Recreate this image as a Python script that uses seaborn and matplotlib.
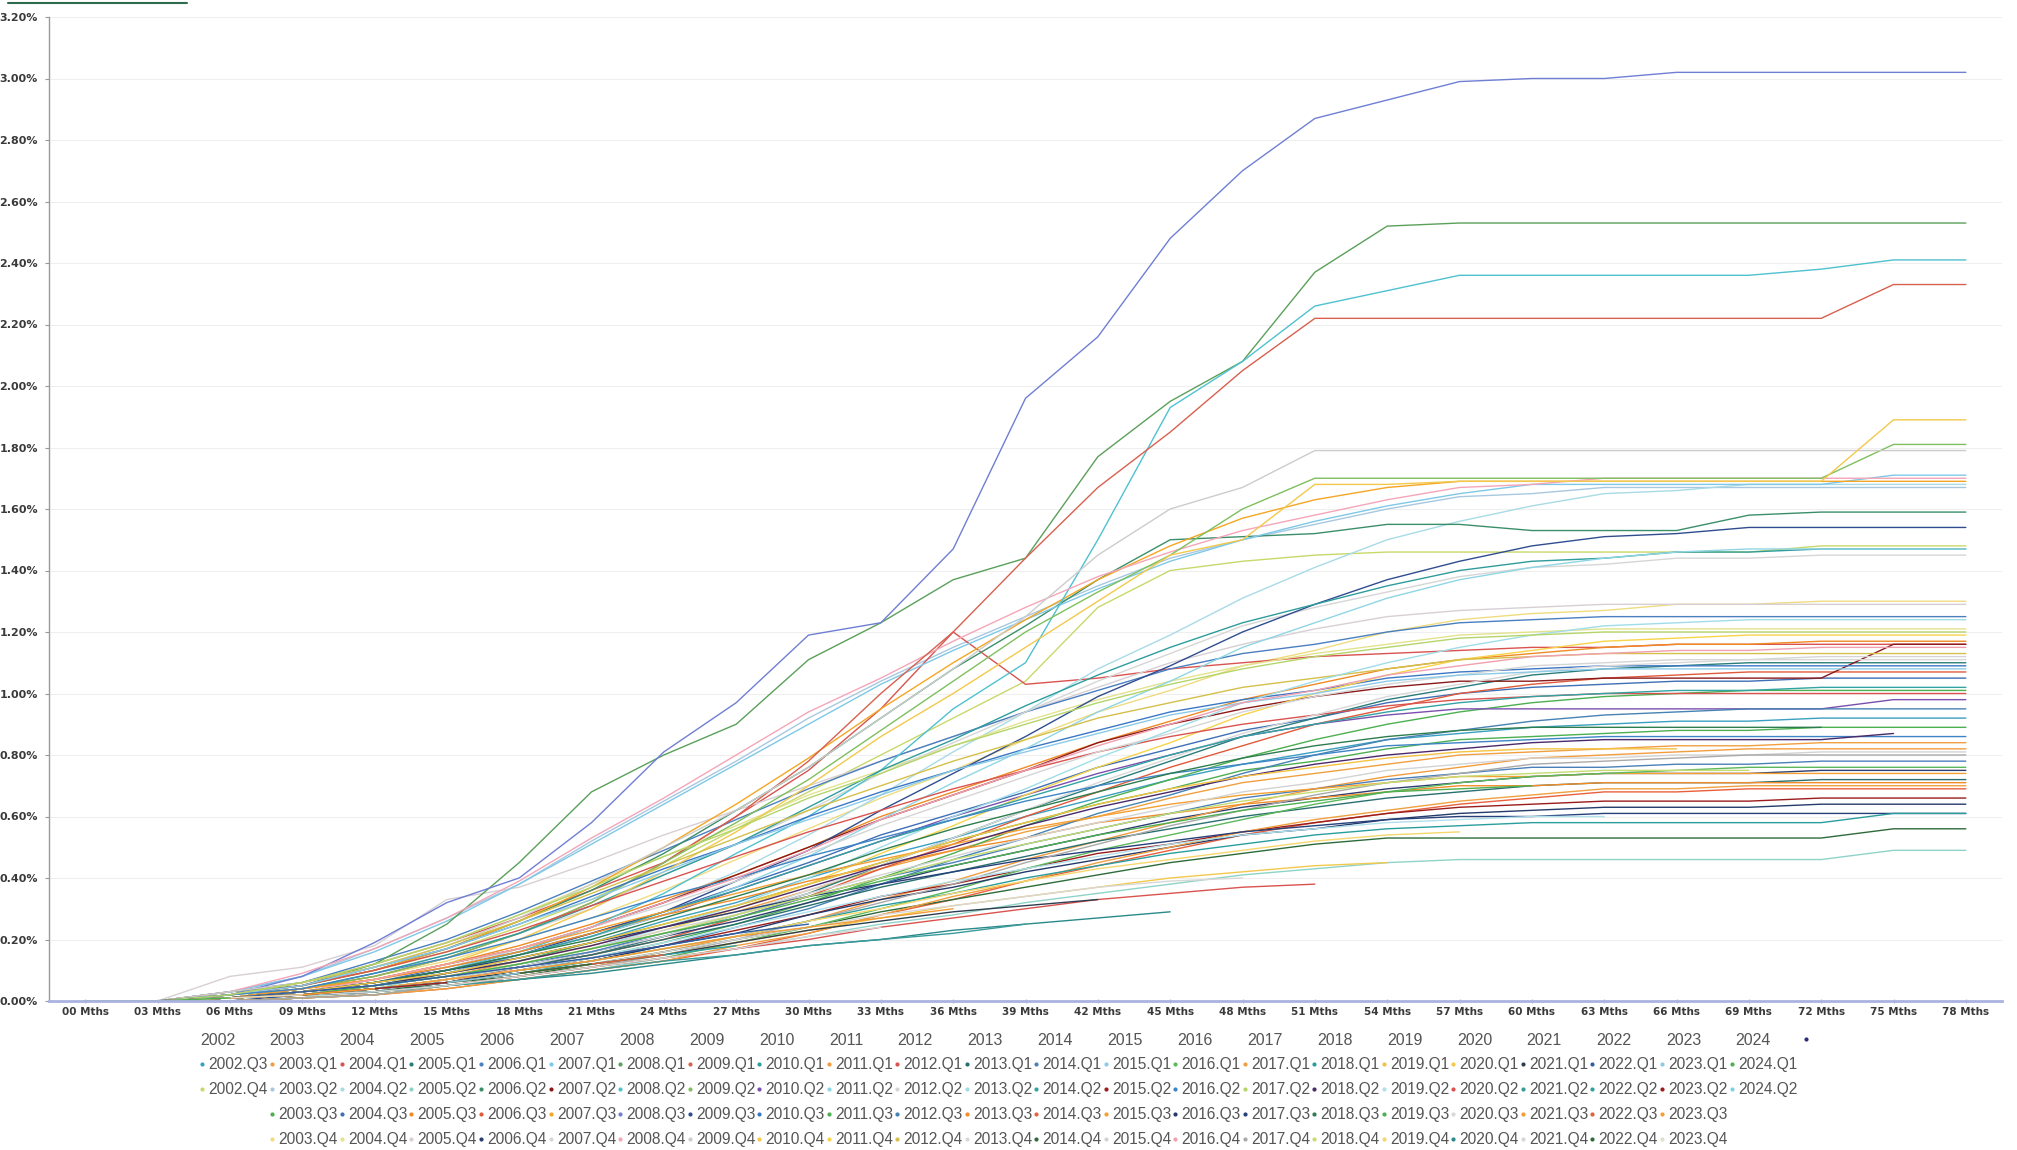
import matplotlib
matplotlib.use("Agg")
import matplotlib.pyplot as plt
from matplotlib.lines import Line2D
from matplotlib.ticker import FuncFormatter, FixedLocator
from matplotlib.font_manager import FontProperties
import seaborn as sns
import pandas as pd

# ---------------- data -----------------
MONTH_LABELS = ["00 Mths", "03 Mths", "06 Mths", "09 Mths", "12 Mths", "15 Mths", "18 Mths",
                "21 Mths", "24 Mths", "27 Mths", "30 Mths", "33 Mths", "36 Mths", "39 Mths",
                "42 Mths", "45 Mths", "48 Mths", "51 Mths", "54 Mths", "57 Mths", "60 Mths",
                "63 Mths", "66 Mths", "69 Mths", "72 Mths", "75 Mths", "78 Mths"]
Y_TICKS = [0.0, 0.2, 0.4, 0.6, 0.8, 1.0, 1.2, 1.4, 1.6, 1.8, 2.0, 2.2, 2.4, 2.6, 2.8, 3.0, 3.2]

# cumulative rate per vintage, in hundredths of a percent, one point per 3 months of age
y2002 = {
    "Q3": [0,0,1,3,6,9,14,19,26,32,40,47,53,60,66,72,77,81,85,87,89,90,91,91,92,92,92],
    "Q4": [0,0,2,5,10,16,24,33,44,56,68,80,92,104,128,140,143,145,146,146,146,146,146,146,148,148,148],
}
y2003 = {
    "Q1": [0,0,1,3,5,8,13,18,24,29,36,43,49,55,60,66,71,74,77,80,81,82,83,83,84,84,84],
    "Q2": [0,0,3,8,17,27,38,52,65,78,92,104,115,125,135,144,150,155,160,164,165,167,167,167,167,167,167],
    "Q3": [0,0,0,1,3,6,10,14,19,25,32,40,48,57,65,72,79,85,90,94,97,99,100,101,101,101,101],
    "Q4": [0,0,1,4,8,13,20,27,36,46,56,66,75,85,94,101,109,114,120,124,126,127,129,129,130,130,130],
}
y2004 = {
    "Q1": [0,0,2,6,12,19,27,36,45,60,75,95,120,103,105,108,110,112,113,114,115,115,116,116,116,116,116],
    "Q2": [0,0,0,2,5,10,17,24,32,42,54,67,81,94,108,119,131,141,150,156,161,165,166,168,168,168,168],
    "Q3": [0,0,1,3,6,11,16,22,29,37,45,54,61,68,76,82,88,92,97,100,102,103,104,104,105,105,105],
    "Q4": [0,0,2,6,12,19,28,38,47,57,67,75,83,91,98,104,109,113,116,119,120,121,121,121,121,121,121],
}
y2005 = {
    "Q1": [0,0,0,1,3,7,11,15,21,28,35,44,53,62,70,78,86,92,98,102,106,108,109,110,110,110,110],
    "Q2": [0,0,0,1,3,5,7,10,14,17,21,25,28,32,35,38,41,43,45,46,46,46,46,46,46,49,49],
    "Q3": [0,0,1,4,7,12,18,25,33,41,50,60,68,76,84,91,98,103,108,111,113,115,116,116,117,117,117],
    "Q4": [0,0,8,11,18,33,37,45,54,62,70,78,86,94,102,110,116,121,125,127,128,129,129,129,129,129,129],
}
y2006 = {
    "Q1": [0,0,3,6,13,20,29,39,49,59,69,78,86,94,101,108,113,116,120,123,124,125,125,125,125,125,125],
    "Q2": [0,0,2,5,10,17,26,36,48,62,76,92,108,122,137,150,151,152,155,155,153,153,153,158,159,159,159],
    "Q3": [0,0,0,1,3,6,11,15,20,27,34,43,51,60,68,76,83,90,95,100,103,105,106,107,107,107,107],
    "Q4": [0,0,1,2,5,8,11,16,21,26,32,38,44,49,54,59,63,66,69,71,73,74,74,74,75,75,75],
}
y2007 = {
    "Q1": [0,0,3,8,16,26,38,51,64,77,90,103,114,124,134,143,150,156,161,165,168,168,168,168,168,171,171],
    "Q2": [0,0,1,3,7,12,17,24,32,41,50,59,67,75,84,90,95,99,102,104,104,105,105,105,105,116,116],
    "Q3": [0,0,2,5,10,17,26,37,50,64,79,95,110,124,137,148,157,163,167,169,169,169,169,169,169,169,169],
    "Q4": [0,0,1,4,9,15,22,30,41,51,62,74,84,94,104,113,122,128,133,138,141,142,144,144,145,145,145],
}
y2008 = {
    "Q1": [0,0,3,5,12,25,45,68,80,90,111,123,137,144,177,195,208,237,252,253,253,253,253,253,253,253,253],
    "Q2": [0,0,1,3,6,10,16,24,35,48,60,75,95,110,150,193,208,226,231,236,236,236,236,236,238,241,241],
    "Q3": [0,0,2,8,19,32,40,58,81,97,119,123,147,196,216,248,270,287,293,299,300,300,302,302,302,302,302],
    "Q4": [0,0,3,9,17,27,39,53,66,80,94,105,117,128,138,146,153,158,163,167,168,170,170,170,170,170,170],
}
y2009 = {
    "Q1": [0,0,1,4,8,14,22,32,45,60,78,100,120,144,167,185,205,222,222,222,222,222,222,222,222,233,233],
    "Q2": [0,0,2,4,8,14,22,32,45,58,72,88,104,120,133,145,160,170,170,170,170,170,170,170,170,181,181],
    "Q3": [0,0,0,2,5,9,15,22,29,39,49,62,74,86,99,109,120,129,137,143,148,151,152,154,154,154,154],
    "Q4": [0,0,3,6,11,18,27,38,50,62,76,92,108,125,145,160,167,179,179,179,179,179,179,179,179,179,179],
}
y2010 = {
    "Q1": [0,0,1,4,9,15,22,31,41,51,63,75,85,96,106,115,123,129,135,140,143,144,146,146,147,147,147],
    "Q2": [0,0,1,3,6,10,15,21,28,36,44,52,60,67,74,80,86,90,93,95,95,95,95,95,95,98,98],
    "Q3": [0,0,2,5,11,17,25,34,43,51,60,68,75,82,88,94,98,101,105,107,108,109,109,109,109,109,109],
    "Q4": [0,0,1,3,7,12,20,30,42,55,70,86,100,115,130,145,150,168,168,169,169,169,169,169,169,189,189],
}
y2011 = {
    "Q1": [0,0,0,1,2,5,8,11,16,21,26,33,39,46,52,58,64,69,73,76,79,80,81,82,82,82,82],
    "Q2": [0,0,0,1,4,9,15,21,28,37,47,59,71,82,94,104,115,123,131,137,141,144,146,147,147,147,147],
    "Q3": [0,0,1,3,5,9,13,19,25,31,38,45,52,58,64,69,75,78,82,85,86,87,88,88,89,89,89],
    "Q4": [0,0,0,1,4,7,12,17,23,30,38,48,57,67,76,84,93,100,106,111,114,117,118,119,119,119,119],
}
y2012 = {
    "Q1": [0,0,2,5,10,16,23,31,39,47,55,62,69,75,81,86,90,93,96,98,99,100,100,100,100,100,100],
    "Q2": [0,0,1,3,7,11,17,24,31,39,48,57,65,73,81,87,94,99,103,106,109,110,111,111,112,112,112],
    "Q3": [0,0,0,1,3,6,10,13,18,24,30,38,46,53,61,67,74,80,85,88,91,93,94,95,95,95,95],
    "Q4": [0,0,2,6,11,18,26,35,44,53,62,70,78,85,92,97,102,105,108,111,112,113,113,113,113,113,113],
}
y2013 = {
    "Q1": [0,0,1,2,4,7,11,15,20,25,31,37,42,47,52,56,60,63,66,68,70,71,71,71,72,72,72],
    "Q2": [0,0,0,1,4,7,12,17,24,31,40,50,60,69,79,88,97,104,110,115,119,122,123,124,124,124,124],
    "Q3": [0,0,1,4,7,11,16,22,28,33,39,44,49,53,58,61,64,66,68,70,70,71,71,71,71,71,71],
    "Q4": [0,0,0,1,3,7,11,16,21,28,36,44,53,62,71,79,87,93,99,103,107,109,110,111,111,111,111],
}
y2014 = {
    "Q1": [0,0,1,2,5,8,12,16,22,27,34,40,45,51,56,61,66,69,72,74,76,76,77,77,78,78,78],
    "Q2": [0,0,1,3,6,10,15,21,29,36,44,52,59,66,73,80,86,90,94,97,99,100,101,101,102,102,102],
    "Q3": [0,0,0,1,2,4,7,10,13,17,22,28,33,39,44,49,54,58,61,64,66,68,68,69,69,69,69],
    "Q4": [0,0,1,2,3,6,8,12,16,20,24,29,33,37,41,45,48,51,53,53,53,53,53,53,53,56,56],
}
y2015 = {
    "Q1": [0,0,2,5,11,17,25,33,42,51,59,67,75,81,87,93,97,100,104,106,107,108,108,108,108,108,108],
    "Q2": [0,0,1,2,4,7,10,14,18,23,28,34,38,43,48,51,55,58,61,63,64,65,65,65,66,66,66],
    "Q3": [0,0,1,4,7,12,17,23,29,35,41,46,51,56,60,64,67,69,71,73,73,74,74,74,74,74,74],
    "Q4": [0,0,1,2,5,8,12,17,23,28,35,41,47,53,58,63,68,71,75,77,79,79,80,80,81,81,81],
}
y2016 = {
    "Q1": [0,0,0,1,2,5,8,11,14,19,24,30,36,43,49,54,59,64,68,71,73,74,75,76,76,76,76],
    "Q2": [0,0,2,4,9,14,20,27,34,40,47,53,59,65,70,74,77,80,83,84,85,86,86,86,86,86,86],
    "Q3": [0,0,1,2,4,6,10,13,18,22,28,33,37,42,46,50,54,56,59,61,62,63,63,63,64,64,64],
    "Q4": [0,0,1,3,7,12,17,24,32,40,49,59,67,75,83,90,97,101,106,109,112,113,114,114,115,115,115],
}
y2017 = {
    "Q1": [0,0,0,1,2,4,7,10,13,18,22,28,34,39,45,50,55,59,62,65,67,69,69,70,70,70,70],
    "Q2": [0,0,2,6,12,19,28,37,47,56,66,74,83,90,97,103,108,112,115,118,119,120,120,120,120,120,120],
    "Q3": [0,0,1,3,6,10,14,19,24,29,34,38,42,46,49,52,55,57,59,60,60,61,61,61,61,61,61],
    "Q4": [0,0,0,1,2,5,8,11,15,20,26,32,38,45,51,57,62,67,71,74,77,78,79,80,80,80,80],
}
y2018 = {
    "Q1": [0,0,1,2,4,6,9,13,17,21,26,31,35,40,44,48,51,54,56,57,58,58,58,58,58,61,61],
    "Q2": [0,0,1,3,5,9,13,18,24,30,37,44,50,57,63,68,73,77,80,82,84,85,85,85,85,87],
    "Q3": [0,0,1,3,6,10,15,20,27,34,41,49,56,62,68,74,79,83,86,88,89,89,89,89,89],
    "Q4": [0,0,1,2,5,8,12,17,22,28,34,40,46,51,56,61,65,68,71,73,74,75,75,75],
}
y2019 = {
    "Q1": [0,0,1,3,6,9,14,19,25,31,38,45,52,58,64,69,73,76,79,81,82,82,82],
    "Q2": [0,0,1,2,4,7,10,14,19,24,29,34,39,43,47,51,54,56,58,59,60,60],
    "Q3": [0,0,1,2,5,8,12,17,22,27,33,39,44,49,54,58,62,65,68,69,70],
    "Q4": [0,0,1,2,4,7,10,13,17,21,26,30,35,39,43,46,49,52,54,55],
}
y2020 = {
    "Q1": [0,0,1,2,4,6,9,12,15,19,23,27,31,34,37,40,42,44,45],
    "Q2": [0,0,1,2,3,5,8,11,14,17,20,24,27,30,33,35,37,38],
    "Q3": [0,0,1,2,4,6,9,12,16,20,24,28,31,34,37,39,40],
    "Q4": [0,0,1,2,3,5,7,9,12,15,18,20,23,25,27,29],
}
y2021 = {
    "Q1": [0,0,1,2,4,6,9,12,15,19,23,26,29,31,33],
    "Q2": [0,0,1,2,3,5,7,10,13,15,18,20,22,25],
    "Q3": [0,0,1,2,4,7,10,13,17,21,24,27,30],
    "Q4": [0,0,1,2,3,5,8,11,14,17,21,24],
}
y2022 = {
    "Q1": [0,0,1,3,5,8,11,14,18,22,25],
    "Q2": [0,0,1,2,4,6,9,12,15,18],
    "Q3": [0,0,1,2,4,6,9,12,15],
    "Q4": [0,0,1,2,4,6,9,12],
}
y2023 = {
    "Q1": [0,0,1,2,4,6,9],
    "Q2": [0,0,1,2,4,6],
    "Q3": [0,0,1,2,4],
    "Q4": [0,0,1,2],
}
y2024 = {
    "Q1": [0,0,1],
    "Q2": [0,0],
}

VINTAGE_YEARS = [2002, 2003, 2004, 2005, 2006, 2007, 2008, 2009, 2010, 2011, 2012, 2013,
                 2014, 2015, 2016, 2017, 2018, 2019, 2020, 2021, 2022, 2023, 2024]
YEAR_DATA = [y2002, y2003, y2004, y2005, y2006, y2007, y2008, y2009, y2010, y2011, y2012, y2013,
             y2014, y2015, y2016, y2017, y2018, y2019, y2020, y2021, y2022, y2023, y2024]

# ---------------- style -----------------
COLORS = {
    "2002.Q3": "#3a9fc0", "2002.Q4": "#c8d86a",
    "2003.Q1": "#f0a040", "2003.Q2": "#a8c8e0", "2003.Q3": "#4caf50", "2003.Q4": "#f0dc80",
    "2004.Q1": "#d9534f", "2004.Q2": "#a8dbe6", "2004.Q3": "#3f6fb5", "2004.Q4": "#e3e38e",
    "2005.Q1": "#2a7d7b", "2005.Q2": "#8fd3c8", "2005.Q3": "#f08a24", "2005.Q4": "#d8cfd4",
    "2006.Q1": "#4a7fc0", "2006.Q2": "#3a8f6a", "2006.Q3": "#e05a3a", "2006.Q4": "#2c3e70",
    "2007.Q1": "#7ec8e8", "2007.Q2": "#8b1a1a", "2007.Q3": "#f5a623", "2007.Q4": "#d6d6d6",
    "2008.Q1": "#5aa05a", "2008.Q2": "#4fc1d0", "2008.Q3": "#6f7fd4", "2008.Q4": "#f4a6b8",
    "2009.Q1": "#d8604f", "2009.Q2": "#7fbf5e", "2009.Q3": "#2f4d8f", "2009.Q4": "#cccccc",
    "2010.Q1": "#2e9c9c", "2010.Q2": "#7b4fae", "2010.Q3": "#3b78c4", "2010.Q4": "#f2c94c",
    "2011.Q1": "#f39c3d", "2011.Q2": "#8fd6e4", "2011.Q3": "#4caf50", "2011.Q4": "#f7d44a",
    "2012.Q1": "#d9534f", "2012.Q2": "#d5d5d5", "2012.Q3": "#4682b4", "2012.Q4": "#d4c04a",
    "2013.Q1": "#2a6f6f", "2013.Q2": "#a0dde8", "2013.Q3": "#f28c28", "2013.Q4": "#d8d8d8",
    "2014.Q1": "#4a80b8", "2014.Q2": "#33a3a3", "2014.Q3": "#e8603c", "2014.Q4": "#2e6b3a",
    "2015.Q1": "#8ccbe8", "2015.Q2": "#9b1c1c", "2015.Q3": "#f5a030", "2015.Q4": "#d3d3d3",
    "2016.Q1": "#5cb85c", "2016.Q2": "#3d85c6", "2016.Q3": "#243b6b", "2016.Q4": "#f0a0b0",
    "2017.Q1": "#f0a040", "2017.Q2": "#b5d56a", "2017.Q3": "#26407a", "2017.Q4": "#a9a9a9",
    "2018.Q1": "#2a9d9d", "2018.Q2": "#4a2a6a", "2018.Q3": "#2e7d4f", "2018.Q4": "#c5dc70",
    "2019.Q1": "#f5c242", "2019.Q2": "#b0e0ea", "2019.Q3": "#4caf50", "2019.Q4": "#f5d76e",
    "2020.Q1": "#f2c94c", "2020.Q2": "#d9534f", "2020.Q3": "#d8d8d8", "2020.Q4": "#2a8a8a",
    "2021.Q1": "#2d3e50", "2021.Q2": "#3a9a9a", "2021.Q3": "#f29b38", "2021.Q4": "#d6d6d6",
    "2022.Q1": "#2f5fa8", "2022.Q2": "#30a0a0", "2022.Q3": "#e0603a", "2022.Q4": "#2e6b3a",
    "2023.Q1": "#8ecae6", "2023.Q2": "#9b1c1c", "2023.Q3": "#f5a030", "2023.Q4": "#e0e0c8",
    "2024.Q1": "#4caf50", "2024.Q2": "#7fd0e8",
}

sns.set_style("white")
plt.rcParams["font.family"] = ["Liberation Sans", "DejaVu Sans"]

# ---------------- long table -----------------
rows = []
order = []
for year, qd in zip(VINTAGE_YEARS, YEAR_DATA):
    for q, vals in qd.items():
        lab = f"{year}.{q}"
        order.append(lab)
        for k, v in enumerate(vals):
            rows.append((lab, k, v / 100.0))
df = pd.DataFrame(rows, columns=["vintage", "age", "rate"])

W, H = 2017, 1150
fig = plt.figure(figsize=(W / 100, H / 100), dpi=100)
ax = fig.add_axes([49 / W, 1 - 1001 / H, (2002 - 49) / W, (1001 - 17) / H])

sns.lineplot(data=df, x="age", y="rate", hue="vintage", hue_order=order, palette=COLORS,
             linewidth=1.0, legend=False, estimator=None, sort=False, ax=ax)

ax.set_xlim(-0.5, len(MONTH_LABELS) - 0.5)
ax.set_ylim(0, 3.2)
ax.xaxis.set_major_locator(FixedLocator(range(len(MONTH_LABELS))))
ax.set_xticklabels(MONTH_LABELS)
ax.yaxis.set_major_locator(FixedLocator(Y_TICKS))
ax.yaxis.set_major_formatter(FuncFormatter(lambda v, _: f"{v:.2f}%"))
ax.set_xlabel("")
ax.set_ylabel("")

tick_font = ["Liberation Sans Narrow", "DejaVu Sans"]
for lab in ax.get_xticklabels():
    lab.set_fontfamily(tick_font)
    lab.set_fontsize(7.5)
    lab.set_fontweight("bold")
    lab.set_color("#3a3a3a")
for lab in ax.get_yticklabels():
    lab.set_fontfamily(tick_font)
    lab.set_fontsize(8)
    lab.set_fontweight("bold")
    lab.set_color("#3a3a3a")

ax.tick_params(axis="y", length=3, width=0.8, color="#999999", pad=5, left=True)
ax.tick_params(axis="x", length=3, width=0.8, color="#aab2dd", pad=3, bottom=True,
               direction="inout")
ax.grid(axis="y", color="#efefef", linewidth=0.8)
ax.grid(axis="x", visible=False)
for s in ("top", "right"):
    ax.spines[s].set_visible(False)
ax.spines["left"].set_color("#9a9a9a")
ax.spines["left"].set_linewidth(1.0)
ax.spines["bottom"].set_color("#aab2e0")
ax.spines["bottom"].set_linewidth(2.0)

# ---------------- legend: year headers row + quarter entries -----------------
head_font = FontProperties(family=["Liberation Sans", "DejaVu Sans"], size=11.5)
leg_font = FontProperties(family=["Liberation Sans", "DejaVu Sans"], size=11.2)
blank = Line2D([], [], linestyle="none")

head_h, head_l = [], []
for year in VINTAGE_YEARS:
    head_h.append(blank)
    head_l.append(str(year))
head_h.append(Line2D([], [], linestyle="none", marker="o", markersize=3,
                     markeredgewidth=0, color="#2c2c7a"))
head_l.append("")

fig.legend(head_h, head_l, loc="upper left", bbox_to_anchor=(200 / W, 1 - 1033 / H),
           ncol=24, frameon=False, borderpad=0, borderaxespad=0,
           handlelength=0, handletextpad=0, columnspacing=2.16,
           prop=head_font, labelcolor="#555555")

q_h, q_l = [], []
for year, qd in zip(VINTAGE_YEARS, YEAR_DATA):
    qs = list(qd.keys())
    for i in range(4):
        if i < len(qs):
            lab = f"{year}.{qs[i]}"
            q_h.append(Line2D([], [], linestyle="none", marker="o", markersize=3,
                              markeredgewidth=0, color=COLORS[lab]))
            q_l.append(lab)
        else:
            q_h.append(blank)
            q_l.append("")

fig.legend(q_h, q_l, loc="upper left", bbox_to_anchor=(200 / W, 1 - 1057.5 / H),
           ncol=23, frameon=False, borderpad=0, borderaxespad=0,
           handlelength=0.3, handletextpad=0.25, columnspacing=0.11, labelspacing=0.64,
           prop=leg_font, labelcolor="#555555")

# thin rule remnant at the very top-left
fig.add_artist(Line2D([8 / W, 187 / W], [1 - 3 / H, 1 - 3 / H], color="#2e6b4f",
                      linewidth=1.5, transform=fig.transFigure))

fig.savefig("out.png", dpi=100)
